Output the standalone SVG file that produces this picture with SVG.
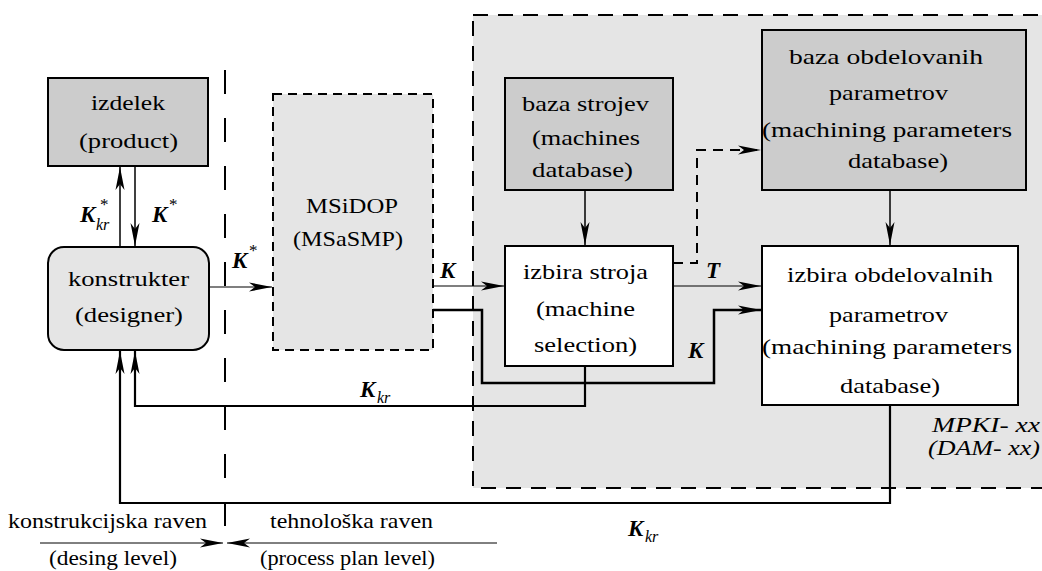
<svg xmlns="http://www.w3.org/2000/svg" width="1042" height="571" viewBox="0 0 1042 571">
<style>
text{font-family:'Liberation Serif','DejaVu Serif','Noto Serif',serif;fill:#000}
.t{font-size:22px}
.it{font-size:22px;font-style:italic}
.m{font-size:23px;font-style:italic;font-weight:bold}
.s{font-size:16px;font-style:italic}
.sup{font-size:17px}
.box{stroke:#000;stroke-width:2}
.dark{fill:#cccccc}
.light{fill:#e5e5e5}
.white{fill:#fff}
.c{fill:none;stroke:#000}
</style>
<defs>
<marker id="ah" markerUnits="userSpaceOnUse" markerWidth="26" markerHeight="12" viewBox="-24 -6 26 12" refX="0" refY="0" orient="auto">
<path d="M0,0 L-23,-4.5 L-17,0 L-23,4.5 Z" fill="#000"/>
</marker>
</defs>

<g id="region">
<rect x="473" y="15" width="600" height="473" class="light" stroke="#000" stroke-width="2" stroke-dasharray="15 10"/>
</g>

<g id="divider">
<line x1="225" y1="70" x2="225" y2="527" stroke="#000" stroke-width="2" stroke-dasharray="24 24"/>
</g>

<g id="izdelek">
<rect x="48" y="78" width="160" height="88" class="box dark"/>
<text class="t" x="91" y="110" textLength="74" lengthAdjust="spacingAndGlyphs">izdelek</text>
<text class="t" x="79" y="148" textLength="99" lengthAdjust="spacingAndGlyphs">(product)</text>
</g>

<g id="konstrukter">
<rect x="48" y="247" width="161" height="103" rx="16" ry="16" class="box light"/>
<text class="t" x="68" y="286" textLength="121" lengthAdjust="spacingAndGlyphs">konstrukter</text>
<text class="t" x="75" y="322" textLength="108" lengthAdjust="spacingAndGlyphs">(designer)</text>
</g>

<g id="msidop">
<rect x="273" y="94" width="160" height="256" class="light" stroke="#000" stroke-width="2" stroke-dasharray="9 6"/>
<text class="t" x="306" y="213" textLength="92" lengthAdjust="spacingAndGlyphs">MSiDOP</text>
<text class="t" x="293" y="246" textLength="110" lengthAdjust="spacingAndGlyphs">(MSaSMP)</text>
</g>

<g id="baza-strojev">
<rect x="505" y="78" width="168" height="112" class="box dark"/>
<text class="t" x="522" y="111" textLength="127" lengthAdjust="spacingAndGlyphs">baza strojev</text>
<text class="t" x="532" y="145" textLength="108" lengthAdjust="spacingAndGlyphs">(machines</text>
<text class="t" x="532" y="177" textLength="101" lengthAdjust="spacingAndGlyphs">database)</text>
</g>

<g id="izbira-stroja">
<rect x="505" y="246" width="168" height="120" class="box white"/>
<text class="t" x="523" y="279" textLength="125" lengthAdjust="spacingAndGlyphs">izbira stroja</text>
<text class="t" x="536" y="316" textLength="99" lengthAdjust="spacingAndGlyphs">(machine</text>
<text class="t" x="534" y="352" textLength="103" lengthAdjust="spacingAndGlyphs">selection)</text>
</g>

<g id="baza-obdelovanih">
<rect x="762" y="30" width="264" height="160" class="box dark"/>
<text class="t" x="789" y="64" textLength="194" lengthAdjust="spacingAndGlyphs">baza obdelovanih</text>
<text class="t" x="829" y="100" textLength="119" lengthAdjust="spacingAndGlyphs">parametrov</text>
<text class="t" x="762" y="137" textLength="250" lengthAdjust="spacingAndGlyphs">(machining parameters</text>
<text class="t" x="848" y="168" textLength="100" lengthAdjust="spacingAndGlyphs">database)</text>
</g>

<g id="izbira-obdelovalnih">
<rect x="762" y="246" width="256" height="159" class="box white"/>
<text class="t" x="787" y="282" textLength="206" lengthAdjust="spacingAndGlyphs">izbira obdelovalnih</text>
<text class="t" x="829" y="322" textLength="119" lengthAdjust="spacingAndGlyphs">parametrov</text>
<text class="t" x="762" y="354" textLength="250" lengthAdjust="spacingAndGlyphs">(machining parameters</text>
<text class="t" x="840" y="393" textLength="100" lengthAdjust="spacingAndGlyphs">database)</text>
</g>

<g id="region-label">
<text class="it" x="932" y="432" textLength="108" lengthAdjust="spacingAndGlyphs">MPKI- xx</text>
<text class="it" x="928" y="455" textLength="112" lengthAdjust="spacingAndGlyphs">(DAM- xx)</text>
</g>

<g id="level-labels">
<text class="t" x="8" y="528" textLength="199" lengthAdjust="spacingAndGlyphs">konstrukcijska raven</text>
<text class="t" x="270" y="528" textLength="163" lengthAdjust="spacingAndGlyphs">tehnološka raven</text>
<text class="t" x="49" y="565" textLength="128" lengthAdjust="spacingAndGlyphs">(desing level)</text>
<text class="t" x="260" y="565" textLength="175" lengthAdjust="spacingAndGlyphs">(process plan level)</text>
</g>

<g id="connectors">
<path class="c" stroke-width="1.5" d="M120,247 L120,167" marker-end="url(#ah)"/>
<path class="c" stroke-width="1.5" d="M135,166 L135,246" marker-end="url(#ah)"/>
<path class="c" stroke-width="1.2" d="M209,287 L272,287" marker-end="url(#ah)"/>
<path class="c" stroke-width="1.2" d="M433,286 L504,286" marker-end="url(#ah)"/>
<path class="c" stroke-width="2.5" d="M433,310 L482,310 L482,383 L714,383 L714,310 L761,310" marker-end="url(#ah)"/>
<path class="c" stroke-width="1.2" d="M673,286 L761,286" marker-end="url(#ah)"/>
<path class="c" stroke-width="2" stroke-dasharray="10 7" d="M673,263 L697,263 L697,150 L761,150" marker-end="url(#ah)"/>
<path class="c" stroke-width="1.5" d="M585,190 L585,245" marker-end="url(#ah)"/>
<path class="c" stroke-width="1.5" d="M890,190 L890,245" marker-end="url(#ah)"/>
<path class="c" stroke-width="2.2" d="M585,366 L585,406 L135,406 L135,351" marker-end="url(#ah)"/>
<path class="c" stroke-width="2.2" d="M890,405 L890,503 L120,503 L120,351" marker-end="url(#ah)"/>
<path class="c" stroke-width="1" d="M40,543 L223,543" marker-end="url(#ah)"/>
<path class="c" stroke-width="1" d="M497,543 L227,543" marker-end="url(#ah)"/>
</g>

<g id="connector-labels">
<text class="m" x="80" y="222">K</text>
<text class="sup" x="100" y="210">*</text>
<text class="s" x="96" y="230">kr</text>
<text class="m" x="152" y="222">K</text>
<text class="sup" x="169" y="210">*</text>
<text class="m" x="232" y="268">K</text>
<text class="sup" x="249" y="256">*</text>
<text class="m" x="440" y="278">K</text>
<text class="m" x="706" y="278">T</text>
<text class="m" x="688" y="358">K</text>
<text class="m" x="360" y="397">K</text>
<text class="s" x="377" y="403">kr</text>
<text class="m" x="628" y="536">K</text>
<text class="s" x="645" y="542">kr</text>
</g>
</svg>
